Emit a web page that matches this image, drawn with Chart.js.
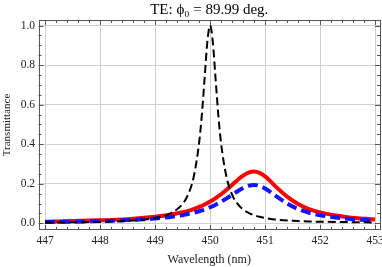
<!DOCTYPE html>
<html><head><meta charset="utf-8">
<script src="https://cdn.jsdelivr.net/npm/chart.js@4"></script>
<style>html,body{margin:0;padding:0;background:#fff}#c{display:block}</style>
</head><body>
<canvas id="c" width="382" height="267"></canvas>
<script>
const wavelength = [447,447.5,448,448.5,449,449.25,449.5,449.6,449.7,449.8,449.85,449.9,449.95,450,450.05,450.1,450.15,450.2,450.3,450.4,450.5,450.6,450.7,450.8,450.9,451,451.1,451.2,451.4,451.6,451.8,452,452.5,453];
const blackDashed = [0.004,0.005,0.007,0.012,0.027,0.046,0.098,0.145,0.232,0.405,0.547,0.731,0.916,1.0,0.916,0.731,0.547,0.405,0.232,0.145,0.098,0.070,0.053,0.041,0.033,0.027,0.022,0.019,0.014,0.011,0.009,0.008,0.006,0.004];
const redSolid = [0.008,0.011,0.015,0.021,0.033,0.042,0.056,0.063,0.072,0.083,0.088,0.095,0.102,0.110,0.118,0.127,0.137,0.147,0.170,0.194,0.219,0.241,0.256,0.262,0.255,0.237,0.212,0.184,0.135,0.098,0.072,0.055,0.031,0.019];
const blueDashed = [0.006,0.008,0.011,0.016,0.024,0.031,0.041,0.047,0.053,0.061,0.065,0.070,0.075,0.081,0.087,0.094,0.101,0.109,0.126,0.144,0.162,0.178,0.190,0.194,0.189,0.176,0.157,0.137,0.100,0.072,0.053,0.041,0.023,0.014];
const xTickValues = [447,448,449,450,451,452,453];
const yTickValues = [0.0,0.2,0.4,0.6,0.8,1.0];
const xMinorStep = 0.2;
const yMinorStep = 0.05;

const serif = '"Liberation Serif","Times New Roman",serif';
const pts = arr => wavelength.map((x,i)=>({x:x, y:arr[i]}));

const framePlugin = {
  id:'frame',
  afterDraw(chart){
    const {ctx, chartArea:a, scales:{x, y}} = chart;
    ctx.save();
    ctx.strokeStyle = '#555';
    ctx.lineWidth = 1;
    ctx.strokeRect(Math.round(a.left)+0.5, Math.round(a.top)+0.5, Math.round(a.right-a.left)-1, Math.round(a.bottom-a.top)-1);
    ctx.beginPath();
    for (let v = Math.ceil(x.min/xMinorStep)*xMinorStep; v <= x.max+1e-9; v += xMinorStep) {
      const px = Math.round(x.getPixelForValue(v))+0.5;
      const major = Math.abs(v - Math.round(v)) < 1e-6;
      const len = major ? 5 : 3;
      ctx.moveTo(px, a.bottom); ctx.lineTo(px, a.bottom-len);
      ctx.moveTo(px, a.top); ctx.lineTo(px, a.top+len);
    }
    for (let v = Math.ceil(y.min/yMinorStep)*yMinorStep; v <= y.max+1e-9; v += yMinorStep) {
      const py = Math.round(y.getPixelForValue(v))+0.5;
      const major = Math.abs(v/0.2 - Math.round(v/0.2)) < 1e-6;
      const len = major ? 5 : 3;
      ctx.moveTo(a.left, py); ctx.lineTo(a.left+len, py);
      ctx.moveTo(a.right, py); ctx.lineTo(a.right-len, py);
    }
    ctx.stroke();
    ctx.restore();
  }
};

new Chart(document.getElementById('c'), {
  type:'scatter',
  data:{datasets:[
    {data:pts(blackDashed), borderColor:'#000', borderWidth:2, borderDash:[8,4], showLine:true, pointRadius:0, cubicInterpolationMode:'monotone'},
    {data:pts(blueDashed), borderColor:'#1414ff', borderWidth:4, borderDash:[10,5], showLine:true, pointRadius:0, cubicInterpolationMode:'monotone'},
    {data:pts(redSolid), borderColor:'#ff0000', borderWidth:4, showLine:true, pointRadius:0, cubicInterpolationMode:'monotone'}
  ]},
  options:{
    responsive:false, animation:false,
    layout:{padding:{top:0,right:2,left:0,bottom:0}},
    plugins:{
      legend:{display:false}, tooltip:{enabled:false},
      title:{display:true, text:'TE: ϕ₀ = 89.99 deg.', fullSize:false, color:'#000',
        font:{family:serif, size:15, weight:'normal', lineHeight:1.2}, padding:{top:1,bottom:1}}
    },
    scales:{
      x:{type:'linear', min:446.88, max:453.09,
        afterBuildTicks:s=>{s.ticks = xTickValues.map(v=>({value:v}));},
        afterFit:s=>{s.height = 37; s.paddingLeft = 0; s.paddingRight = 0;},
        grid:{color:'#cfcfcf', drawTicks:false},
        border:{display:false},
        ticks:{color:'#222', font:{family:serif, size:11.5}, padding:4, maxRotation:0,
          callback:v=>String(v)},
        title:{display:true, text:'Wavelength (nm)', color:'#222', font:{family:serif, size:12}, padding:{top:3,bottom:0}}
      },
      y:{type:'linear', min:-0.034, max:1.028,
        afterBuildTicks:s=>{s.ticks = yTickValues.map(v=>({value:v}));},
        afterFit:s=>{s.width = 38.5; s.paddingTop = 0; s.paddingBottom = 0;},
        grid:{color:'#cfcfcf', drawTicks:false},
        border:{display:false},
        ticks:{color:'#222', font:{family:serif, size:11.5}, padding:3.5,
          callback:v=>Number(v).toFixed(1)},
        title:{display:true, text:'Transmittance', color:'#222', font:{family:serif, size:11}, padding:{top:1,bottom:0}}
      }
    }
  },
  plugins:[framePlugin]
});
</script>
</body></html>
